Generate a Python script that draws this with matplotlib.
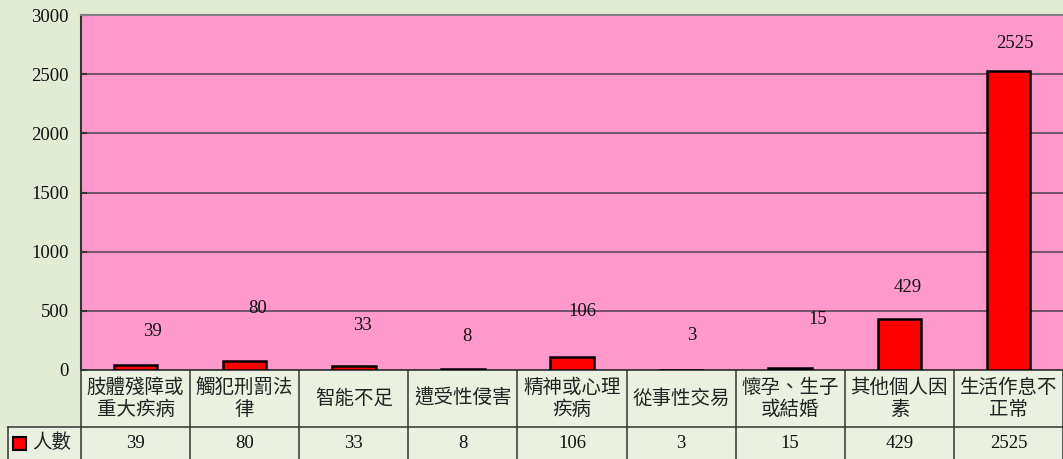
import matplotlib
matplotlib.use("Agg")
import matplotlib.pyplot as plt
from matplotlib import transforms
from matplotlib.patches import Rectangle
from matplotlib.lines import Line2D

# data
categories = ["肢體殘障或\n重大疾病", "觸犯刑罰法\n律", "智能不足", "遭受性侵害",
              "精神或心理\n疾病", "從事性交易", "懷孕、生子\n或結婚", "其他個人因\n素",
              "生活作息不\n正常"]
counts = [39, 80, 33, 8, 106, 3, 15, 429, 2525]
series_name = "人數"
yticks = [0, 500, 1000, 1500, 2000, 2500, 3000]

# label offsets (pixels) mimic the original label placement
label_dx = [17, 13, 9, 4, 10, 11, 28, 8, 6]
label_dy = [34, 52, 41, 33, 46, 34, 49, 32, 28]

BG = "#E2EBD4"
CELL = "#EAF1E1"
PINK = "#FF99CC"
GRID = "#4F3F4F"
LINE = "#333333"
CJK = ["Noto Sans CJK TC", "DejaVu Sans"]
SERIF = "Liberation Serif"
NUM_FS = 13.5

W, H = 1063, 459
fig = plt.figure(figsize=(W / 100, H / 100), dpi=100, facecolor=BG)
ax = fig.add_axes([81 / W, 89 / H, 982 / W, 355 / H])
ax.set_facecolor(PINK)

n = len(categories)
xs = [i + 0.5 for i in range(n)]
ax.bar(xs, counts, width=0.4, color="red", edgecolor="black", linewidth=1.8, zorder=3)

for x, v, dx, dy in zip(xs, counts, label_dx, label_dy):
    ax.annotate(str(v), (x, v), xytext=(dx, dy), textcoords="offset pixels",
                ha="center", va="center", fontsize=NUM_FS, family=SERIF, color="#111111",
                zorder=4)

ax.set_xlim(0, n)
ax.set_ylim(0, 3000)
ax.set_yticks(yticks)
ax.set_yticklabels([str(t) for t in yticks], family=SERIF, fontsize=NUM_FS, color="#111111")
ax.set_xticks([])
ax.tick_params(axis="y", direction="in", length=4.5, width=1.5, color="#333333", pad=9)
ax.yaxis.grid(True, color=GRID, linewidth=1.1, zorder=1)
ax.set_axisbelow(True)
ax.spines["right"].set_visible(False)
ax.spines["top"].set_color("#808080")
ax.spines["top"].set_linewidth(1.5)
ax.spines["left"].set_color("#333333")
ax.spines["left"].set_linewidth(1.5)
ax.spines["bottom"].set_color("#333333")
ax.spines["bottom"].set_linewidth(1.2)

# data table under the chart
tr = transforms.blended_transform_factory(ax.transData, fig.transFigure)
y_top, y_mid, y_bot = 89 / H, 32 / H, 0.0
x_leg = (8 - 81) / (982 / n)

fig.add_artist(Rectangle((0, y_bot), n, y_top - y_bot, transform=tr,
                         facecolor=CELL, edgecolor="none", zorder=0))
fig.add_artist(Rectangle((x_leg, y_bot), -x_leg, y_mid - y_bot, transform=tr,
                         facecolor=CELL, edgecolor="none", zorder=0))
for i in range(n + 1):
    fig.add_artist(Line2D([i, i], [y_bot, y_top], transform=tr, color=LINE, linewidth=1.1))
fig.add_artist(Line2D([x_leg, x_leg], [y_bot, y_mid], transform=tr, color=LINE, linewidth=1.1))
fig.add_artist(Line2D([x_leg, n], [y_mid, y_mid], transform=tr, color=LINE, linewidth=1.1))

for x, cat, v in zip(xs, categories, counts):
    fig.text(x, (y_top + y_mid) / 2, cat, transform=tr, ha="center", va="center",
             fontsize=14, family=CJK, color="#222222", linespacing=1.05)
    fig.text(x, 16 / H, str(v), transform=tr, ha="center", va="center",
             fontsize=NUM_FS, family=SERIF, color="#111111")

# legend key
fig.add_artist(Rectangle((13 / W, 9 / H), 13 / W, 13 / H, transform=fig.transFigure,
                         facecolor="red", edgecolor="black", linewidth=1.5))
fig.text(32 / W, 16 / H, series_name, ha="left", va="center", fontsize=14,
         family=CJK, color="#222222")

fig.savefig("out.png", dpi=100, facecolor=BG)
